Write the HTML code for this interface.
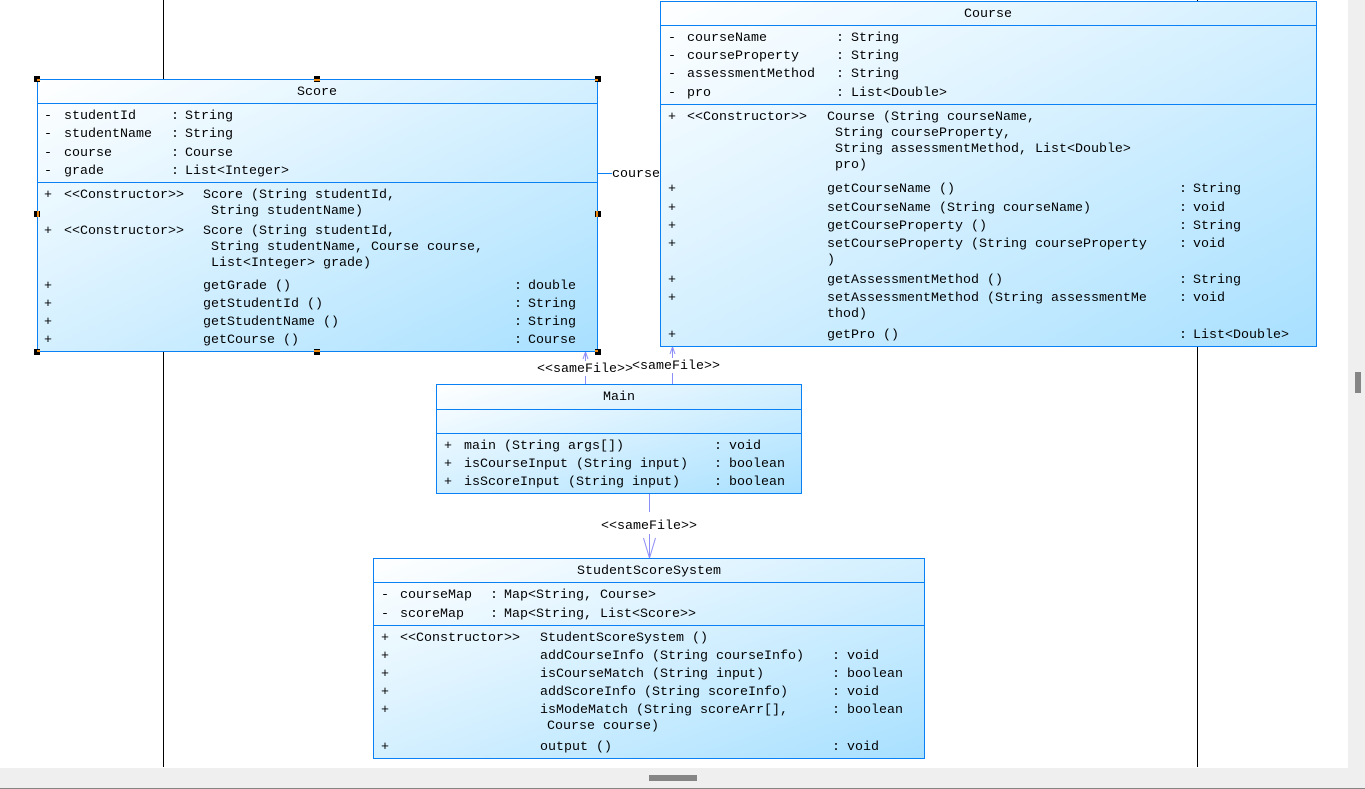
<!DOCTYPE html>
<html>
<head>
<meta charset="utf-8">
<style>
html,body{margin:0;padding:0;width:1365px;height:789px;overflow:hidden;background:#fff}
svg{position:absolute;left:0;top:0;display:block}
text{font-family:"Liberation Mono",monospace;font-size:13.33px;fill:#000;white-space:pre}
.c{text-anchor:middle}
.box{stroke:#0a80f5;stroke-width:1;fill:url(#g)}
.ln{stroke:#0a80f5;stroke-width:1}
.dep{stroke:#8d8df8;stroke-width:1;fill:none}
.h{fill:#000}
.o{fill:#f08a10}
</style>
</head>
<body>
<svg width="1365" height="789" viewBox="0 0 1365 789" xmlns="http://www.w3.org/2000/svg">
<defs>
<linearGradient id="g" x1="0" y1="0" x2="1" y2="1">
<stop offset="0" stop-color="#ffffff"/>
<stop offset="1" stop-color="#a8e0ff"/>
</linearGradient>
</defs>

<!-- background lifelines -->
<path d="M163.5 0V767M1197.5 0V767" stroke="#000" stroke-width="1"/>

<!-- scrollbars -->
<rect x="1348" y="0" width="17" height="768" fill="#efefef"/>
<rect x="1355" y="372" width="6" height="21" fill="#858585"/>
<rect x="0" y="768" width="1365" height="20" fill="#efefef"/>
<rect x="649" y="775" width="48" height="6" fill="#858585"/>
<rect x="0" y="788" width="1365" height="1" fill="#858585"/>

<!-- connectors -->
<path class="ln" d="M598 173.5H612"/>
<path class="dep" d="M585.5 384V352M583 359L585.5 352L588 359"/>
<path class="dep" d="M672.5 384V347M670 354L672.5 347L675 354"/>
<path class="dep" d="M649.5 494V558M643.5 538L649.5 558L655.5 538"/>
<rect x="537" y="361" width="96" height="15" fill="#fff"/>
<rect x="632" y="358" width="88" height="15" fill="#fff"/>
<rect x="601" y="512" width="96" height="22" fill="#fff"/>

<g transform="translate(0,-1)">
<text x="612" y="178">course</text>
<text x="537" y="373">&lt;&lt;sameFile&gt;&gt;</text>
<text x="632" y="370">&lt;sameFile&gt;&gt;</text>
<text x="601" y="530">&lt;&lt;sameFile&gt;&gt;</text>
</g>

<!-- Score -->
<rect class="box" x="37.5" y="79.5" width="560" height="272"/>
<path class="ln" d="M38 103.5H597M38 182.5H597"/>
<g transform="translate(0,-1)">
<text class="c" x="317" y="96">Score</text>
<text x="44" y="120">-</text><text x="64" y="120">studentId</text><text x="171" y="120">:</text><text x="185" y="120">String</text>
<text x="44" y="138">-</text><text x="64" y="138">studentName</text><text x="171" y="138">:</text><text x="185" y="138">String</text>
<text x="44" y="157">-</text><text x="64" y="157">course</text><text x="171" y="157">:</text><text x="185" y="157">Course</text>
<text x="44" y="175">-</text><text x="64" y="175">grade</text><text x="171" y="175">:</text><text x="185" y="175">List&lt;Integer&gt;</text>
<text x="44" y="199">+</text><text x="64" y="199">&lt;&lt;Constructor&gt;&gt;</text><text x="203" y="199">Score (String studentId,</text>
<text x="211" y="215">String studentName)</text>
<text x="44" y="235">+</text><text x="64" y="235">&lt;&lt;Constructor&gt;&gt;</text><text x="203" y="235">Score (String studentId,</text>
<text x="211" y="251">String studentName, Course course,</text>
<text x="211" y="267">List&lt;Integer&gt; grade)</text>
<text x="44" y="290">+</text><text x="203" y="290">getGrade ()</text><text x="514" y="290">:</text><text x="528" y="290">double</text>
<text x="44" y="308">+</text><text x="203" y="308">getStudentId ()</text><text x="514" y="308">:</text><text x="528" y="308">String</text>
<text x="44" y="326">+</text><text x="203" y="326">getStudentName ()</text><text x="514" y="326">:</text><text x="528" y="326">String</text>
<text x="44" y="344">+</text><text x="203" y="344">getCourse ()</text><text x="514" y="344">:</text><text x="528" y="344">Course</text>
</g>
<!-- selection handles -->
<rect class="h" x="34" y="76" width="6" height="6"/>
<rect class="h" x="314" y="76" width="6" height="6"/>
<rect class="h" x="595" y="76" width="6" height="6"/>
<rect class="h" x="34" y="211" width="6" height="6"/>
<rect class="h" x="595" y="211" width="6" height="6"/>
<rect class="h" x="34" y="349" width="6" height="6"/>
<rect class="h" x="314" y="349" width="6" height="6"/>
<rect class="h" x="595" y="349" width="6" height="6"/>
<rect class="o" x="37" y="79" width="3" height="2"/>
<rect class="o" x="314" y="79" width="6" height="2"/>
<rect class="o" x="595" y="79" width="3" height="2"/>
<rect class="o" x="37" y="211" width="2" height="6"/>
<rect class="o" x="596" y="211" width="2" height="6"/>
<rect class="o" x="37" y="350" width="3" height="2"/>
<rect class="o" x="314" y="350" width="6" height="2"/>
<rect class="o" x="595" y="350" width="3" height="2"/>

<!-- Course -->
<rect class="box" x="660.5" y="1.5" width="656" height="345"/>
<path class="ln" d="M661 25.5H1316M661 104.5H1316"/>
<g transform="translate(0,-1)">
<text class="c" x="988" y="18">Course</text>
<text x="668" y="42">-</text><text x="687" y="42">courseName</text><text x="836" y="42">:</text><text x="851" y="42">String</text>
<text x="668" y="60">-</text><text x="687" y="60">courseProperty</text><text x="836" y="60">:</text><text x="851" y="60">String</text>
<text x="668" y="78">-</text><text x="687" y="78">assessmentMethod</text><text x="836" y="78">:</text><text x="851" y="78">String</text>
<text x="668" y="97">-</text><text x="687" y="97">pro</text><text x="836" y="97">:</text><text x="851" y="97">List&lt;Double&gt;</text>
<text x="668" y="121">+</text><text x="687" y="121">&lt;&lt;Constructor&gt;&gt;</text><text x="827" y="121">Course (String courseName,</text>
<text x="835" y="137">String courseProperty,</text>
<text x="835" y="153">String assessmentMethod, List&lt;Double&gt;</text>
<text x="835" y="169">pro)</text>
<text x="668" y="193">+</text><text x="827" y="193">getCourseName ()</text><text x="1179" y="193">:</text><text x="1193" y="193">String</text>
<text x="668" y="212">+</text><text x="827" y="212">setCourseName (String courseName)</text><text x="1179" y="212">:</text><text x="1193" y="212">void</text>
<text x="668" y="230">+</text><text x="827" y="230">getCourseProperty ()</text><text x="1179" y="230">:</text><text x="1193" y="230">String</text>
<text x="668" y="248">+</text><text x="827" y="248">setCourseProperty (String courseProperty</text><text x="1179" y="248">:</text><text x="1193" y="248">void</text>
<text x="827" y="264">)</text>
<text x="668" y="284">+</text><text x="827" y="284">getAssessmentMethod ()</text><text x="1179" y="284">:</text><text x="1193" y="284">String</text>
<text x="668" y="302">+</text><text x="827" y="302">setAssessmentMethod (String assessmentMe</text><text x="1179" y="302">:</text><text x="1193" y="302">void</text>
<text x="827" y="318">thod)</text>
<text x="668" y="339">+</text><text x="827" y="339">getPro ()</text><text x="1179" y="339">:</text><text x="1193" y="339">List&lt;Double&gt;</text>
</g>

<!-- Main -->
<rect class="box" x="436.5" y="384.5" width="365" height="109"/>
<path class="ln" d="M437 409.5H801M437 433.5H801"/>
<g transform="translate(0,-1)">
<text class="c" x="619" y="401">Main</text>
<text x="444" y="450">+</text><text x="464" y="450">main (String args[])</text><text x="714" y="450">:</text><text x="729" y="450">void</text>
<text x="444" y="468">+</text><text x="464" y="468">isCourseInput (String input)</text><text x="714" y="468">:</text><text x="729" y="468">boolean</text>
<text x="444" y="486">+</text><text x="464" y="486">isScoreInput (String input)</text><text x="714" y="486">:</text><text x="729" y="486">boolean</text>
</g>

<!-- StudentScoreSystem -->
<rect class="box" x="373.5" y="558.5" width="551" height="200"/>
<path class="ln" d="M374 582.5H924M374 625.5H924"/>
<g transform="translate(0,-1)">
<text class="c" x="649" y="575">StudentScoreSystem</text>
<text x="381" y="599">-</text><text x="400" y="599">courseMap</text><text x="490" y="599">:</text><text x="504" y="599">Map&lt;String, Course&gt;</text>
<text x="381" y="618">-</text><text x="400" y="618">scoreMap</text><text x="490" y="618">:</text><text x="504" y="618">Map&lt;String, List&lt;Score&gt;&gt;</text>
<text x="381" y="642">+</text><text x="400" y="642">&lt;&lt;Constructor&gt;&gt;</text><text x="540" y="642">StudentScoreSystem ()</text>
<text x="381" y="660">+</text><text x="540" y="660">addCourseInfo (String courseInfo)</text><text x="832" y="660">:</text><text x="847" y="660">void</text>
<text x="381" y="678">+</text><text x="540" y="678">isCourseMatch (String input)</text><text x="832" y="678">:</text><text x="847" y="678">boolean</text>
<text x="381" y="696">+</text><text x="540" y="696">addScoreInfo (String scoreInfo)</text><text x="832" y="696">:</text><text x="847" y="696">void</text>
<text x="381" y="714">+</text><text x="540" y="714">isModeMatch (String scoreArr[],</text><text x="832" y="714">:</text><text x="847" y="714">boolean</text>
<text x="547" y="730">Course course)</text>
<text x="381" y="751">+</text><text x="540" y="751">output ()</text><text x="832" y="751">:</text><text x="847" y="751">void</text>
</g>
</svg>
</body>
</html>
